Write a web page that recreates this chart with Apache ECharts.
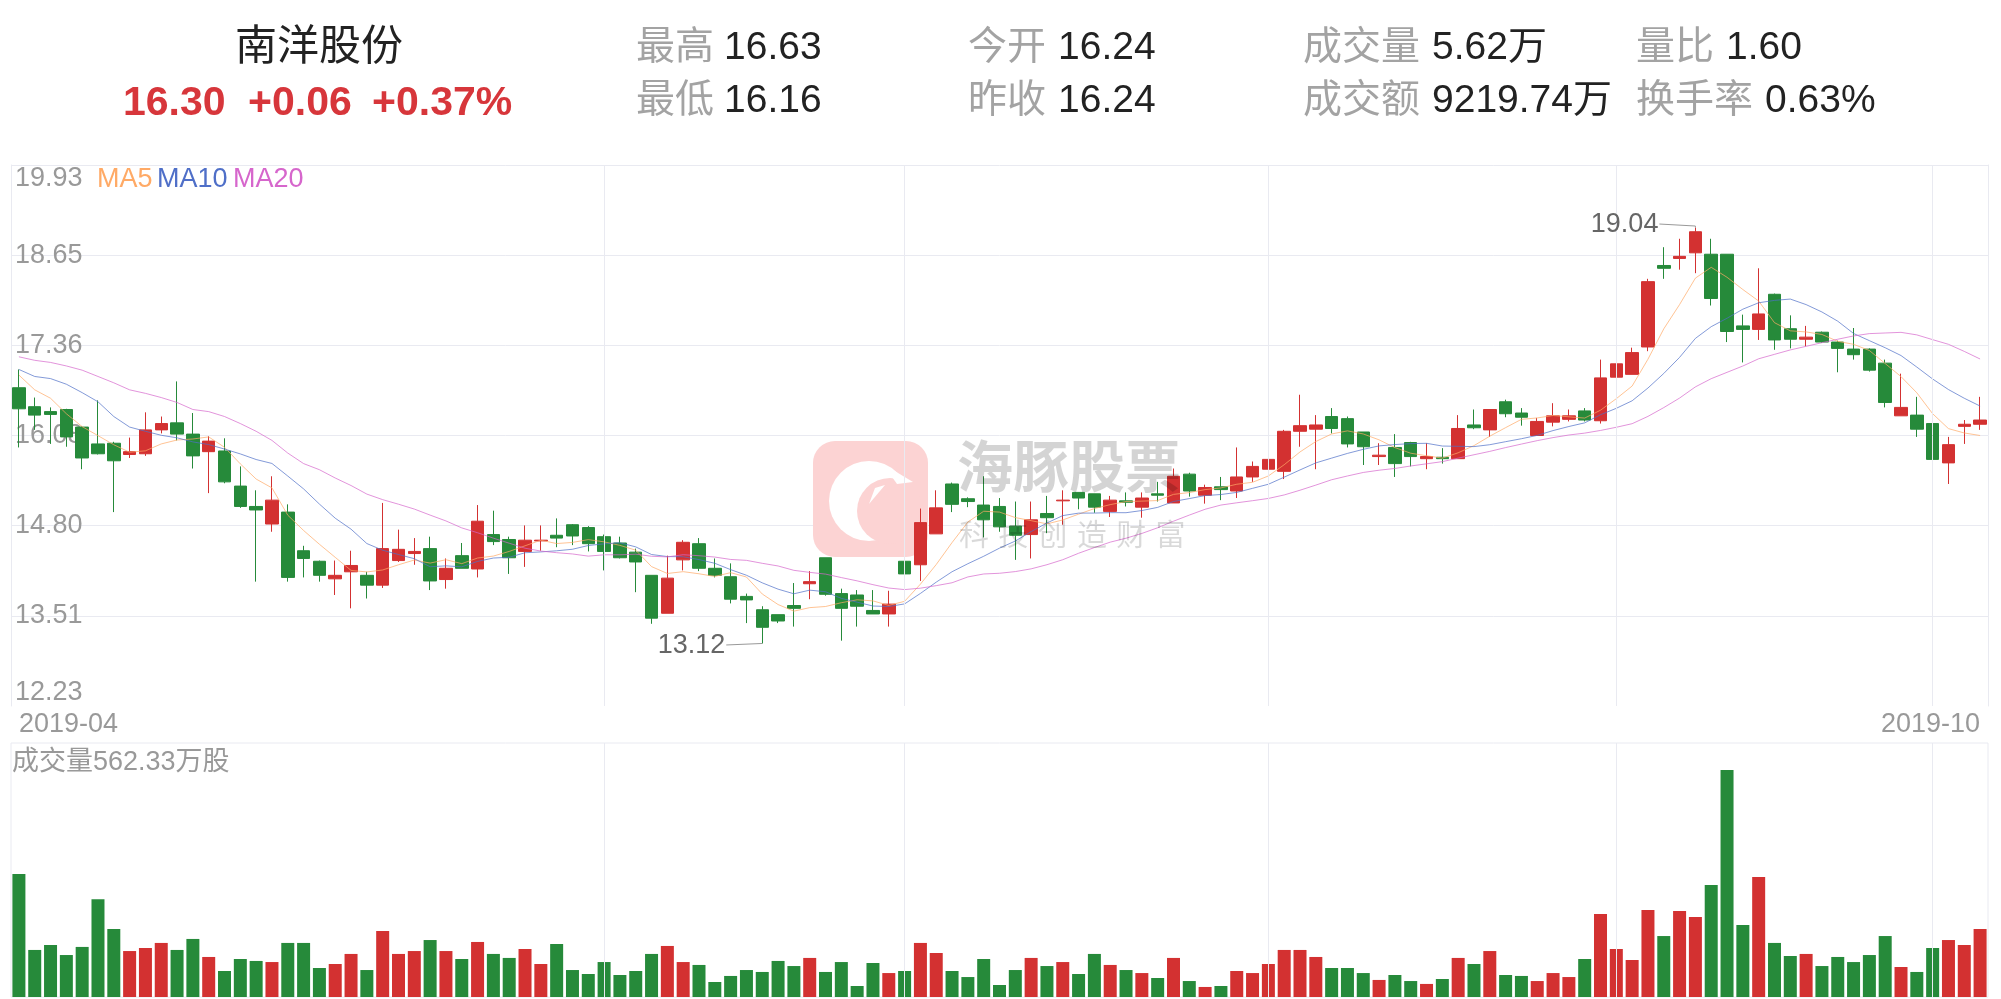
<!DOCTYPE html>
<html>
<head>
<meta charset="utf-8">
<script src="https://cdn.jsdelivr.net/npm/echarts@6/dist/echarts.min.js"></script>
<style>
html,body{margin:0;padding:0;background:#fff;}
#c{width:2001px;height:999px;}
</style>
</head>
<body>
<div id="c"></div>
<script>
// ---------------- DATA ----------------
const stockName = '南洋股份';
const quoteValues = ['16.30', '+0.06', '+0.37%'];
const statLabels = ['最高', '最低', '今开', '昨收', '成交量', '成交额', '量比', '换手率'];
const statValues = ['16.63', '16.16', '16.24', '16.24', '5.62万', '9219.74万', '1.60', '0.63%'];

const dates = [
'2019-04-08','2019-04-09','2019-04-10','2019-04-11','2019-04-12','2019-04-15','2019-04-16','2019-04-17','2019-04-18','2019-04-19',
'2019-04-22','2019-04-23','2019-04-24','2019-04-25','2019-04-26','2019-04-29','2019-04-30',
'2019-05-06','2019-05-07','2019-05-08','2019-05-09','2019-05-10','2019-05-13','2019-05-14','2019-05-15','2019-05-16','2019-05-17',
'2019-05-20','2019-05-21','2019-05-22','2019-05-23','2019-05-24','2019-05-27','2019-05-28','2019-05-29','2019-05-30','2019-05-31',
'2019-06-03','2019-06-04','2019-06-05','2019-06-06','2019-06-10','2019-06-11','2019-06-12','2019-06-13','2019-06-14',
'2019-06-17','2019-06-18','2019-06-19','2019-06-20','2019-06-21','2019-06-24','2019-06-25','2019-06-26','2019-06-27','2019-06-28',
'2019-07-01','2019-07-02','2019-07-03','2019-07-04','2019-07-05','2019-07-08','2019-07-09','2019-07-10','2019-07-11','2019-07-12',
'2019-07-15','2019-07-16','2019-07-17','2019-07-18','2019-07-19','2019-07-22','2019-07-23','2019-07-24','2019-07-25','2019-07-26',
'2019-07-29','2019-07-30','2019-07-31',
'2019-08-01','2019-08-02','2019-08-05','2019-08-06','2019-08-07','2019-08-08','2019-08-09','2019-08-12','2019-08-13','2019-08-14',
'2019-08-15','2019-08-16','2019-08-19','2019-08-20','2019-08-21','2019-08-22','2019-08-23','2019-08-26','2019-08-27','2019-08-28',
'2019-08-29','2019-08-30',
'2019-09-02','2019-09-03','2019-09-04','2019-09-05','2019-09-06','2019-09-09','2019-09-10','2019-09-11','2019-09-12','2019-09-16',
'2019-09-17','2019-09-18','2019-09-19','2019-09-20','2019-09-23','2019-09-24','2019-09-25','2019-09-26','2019-09-27','2019-09-30',
'2019-10-08','2019-10-09','2019-10-10','2019-10-11'
];

const opens = [
16.76,16.49,16.42,16.45,16.20,15.96,15.97,15.81,15.82,16.16,
16.26,16.10,15.85,15.86,15.36,15.07,14.82,14.99,14.44,14.29,
14.04,14.14,14.09,13.95,14.30,14.40,14.47,14.03,14.37,14.18,
14.67,14.60,14.43,14.58,14.66,14.81,14.77,14.64,14.55,14.42,
14.09,13.55,14.31,14.54,14.19,14.07,13.79,13.60,13.53,13.66,
13.97,14.34,13.83,13.81,13.59,13.54,14.29,14.24,14.68,15.39,
15.18,15.09,15.07,14.79,14.67,14.97,15.15,15.27,15.25,15.00,
15.15,15.06,15.25,15.12,15.53,15.23,15.35,15.29,15.49,15.60,
15.57,16.14,16.17,16.35,16.32,16.13,15.78,15.91,15.98,15.75,
15.77,15.75,16.23,16.16,16.56,16.40,16.08,16.27,16.31,16.43,
16.29,16.91,16.95,17.34,18.50,18.60,18.68,18.66,18.66,17.64,
17.59,18.09,17.60,17.45,17.55,17.41,17.31,17.31,17.11,16.36,
16.37,16.25,15.69,16.21,16.24
];
const closes = [
16.46,16.37,16.38,16.06,15.76,15.82,15.72,15.85,16.16,16.25,
16.10,15.79,16.00,15.42,15.07,15.02,15.16,14.06,14.33,14.09,
14.09,14.23,13.95,14.47,14.46,14.43,14.01,14.19,14.19,14.86,
14.57,14.34,14.59,14.59,14.62,14.65,14.54,14.43,14.34,14.28,
13.48,14.05,14.56,14.19,14.09,13.75,13.74,13.35,13.44,13.62,
14.00,13.82,13.62,13.65,13.54,13.68,14.11,14.84,15.05,15.10,
15.14,14.88,14.78,14.66,14.88,14.91,15.16,15.19,15.06,15.16,
15.13,15.19,15.23,15.50,15.29,15.34,15.31,15.49,15.64,15.74,
16.14,16.22,16.23,16.18,15.96,15.92,15.80,15.68,15.78,15.78,
15.75,16.18,16.19,16.45,16.39,16.34,16.28,16.36,16.36,16.30,
16.90,17.10,17.26,18.27,18.46,18.63,18.98,18.03,17.56,17.59,
17.81,17.44,17.45,17.48,17.41,17.32,17.23,17.01,16.55,16.48,
16.17,15.74,15.95,16.24,16.30
];
const lows = [
15.91,16.16,15.96,15.92,15.60,15.81,14.99,15.76,15.79,16.11,
16.01,15.61,15.26,15.40,15.05,14.00,14.71,14.00,14.06,14.00,
13.81,13.62,13.76,13.91,14.28,14.24,13.88,13.90,14.19,14.06,
14.52,14.11,14.21,14.44,14.49,14.52,14.43,14.16,14.33,13.85,
13.40,13.55,14.16,14.15,14.06,13.69,13.41,13.12,13.41,13.36,
13.75,13.80,13.16,13.36,13.54,13.36,13.79,14.01,14.68,14.99,
15.06,14.63,14.71,14.31,14.33,14.69,14.81,15.03,14.98,14.92,
15.07,14.91,15.14,15.12,15.21,15.11,15.16,15.19,15.42,15.52,
15.46,15.92,15.60,16.11,15.91,15.66,15.66,15.49,15.64,15.60,
15.68,15.75,16.17,16.06,16.34,16.22,16.08,16.21,16.28,16.28,
16.25,16.72,16.95,17.28,18.31,18.44,18.39,17.93,17.41,17.12,
17.44,17.30,17.32,17.35,17.40,16.98,17.16,16.99,16.48,16.36,
16.06,15.62,15.39,15.96,16.16
];
const highs = [
17.02,16.62,16.48,16.46,16.21,16.58,15.99,16.05,16.41,16.35,
16.85,16.40,16.07,16.04,15.64,15.30,15.50,15.10,14.51,14.30,
14.30,14.44,14.14,15.12,14.74,14.62,14.64,14.33,14.55,15.09,
15.01,14.64,14.80,14.80,14.90,14.82,14.79,14.67,14.64,14.47,
14.09,14.37,14.59,14.62,14.33,14.26,13.83,13.65,13.53,13.98,
14.15,14.34,13.90,13.88,13.88,13.87,14.30,15.04,15.30,15.41,
15.20,15.50,15.19,15.14,15.14,15.22,15.30,15.27,15.25,15.22,
15.27,15.27,15.42,15.61,15.55,15.38,15.49,15.91,15.71,15.91,
16.16,16.66,16.37,16.47,16.35,16.13,15.97,16.10,15.99,15.97,
15.90,16.37,16.45,16.45,16.59,16.47,16.33,16.54,16.45,16.47,
17.16,17.12,17.33,18.31,18.76,18.88,19.04,18.88,18.66,17.80,
18.46,18.10,17.79,17.64,17.56,17.43,17.61,17.32,17.16,16.96,
16.63,16.25,16.06,16.30,16.63
];
// volume, 万股
const volumes = [
1017,389,430,347,414,808,562,380,405,447,
389,480,331,215,314,298,289,447,447,240,
273,356,223,546,356,380,471,380,314,455,
356,323,397,273,438,223,190,289,182,215,
356,422,289,265,124,174,223,207,298,256,
323,207,289,91,281,198,215,447,364,215,
165,314,99,223,323,256,289,190,356,265,
223,198,157,323,132,83,91,215,198,273,
389,389,331,240,240,198,141,182,132,108,
149,323,273,380,182,174,132,198,165,314,
686,397,306,720,504,711,662,926,1877,595,
992,447,339,356,256,331,289,347,504,248,
207,405,471,430,562.33
];
// moving-average values before a full window exists
const ma5Head = [16.94,16.73,16.61,16.39];
const ma10Head = [17.02,16.92,16.89,16.81,16.69,16.56,16.35,16.20,16.14];
const ma20Head = [17.20,17.15,17.12,17.07,17.01,16.92,16.83,16.73,16.68,16.62,16.55,16.45,16.42,16.35,16.25,16.14,16.01,15.83,15.68];

const priceTicks = ['12.23','13.51','14.80','16.08','17.36','18.65','19.93'];
const priceMin = 12.23, priceMax = 19.93;
const volMax = 2100;
const splitDates = ['2019-06-03','2019-07-01','2019-08-01','2019-09-02','2019-10-08'];
const maNames = ['MA5','MA10','MA20'];

// ---------------- STYLE ----------------
const UP = '#d33131', DOWN = '#268a3a';
const GRID = '#e9eaf1';
const MA_COLORS = ['#ffaa66', '#4f6fc8', '#d666cc'];
const FONT = "'Liberation Sans','Noto Sans CJK SC',sans-serif";
const SMALL = 27;

function movingAvg(n, head) {
  return closes.map((c, i) => {
    if (i < n - 1) return head[i];
    let s = 0;
    for (let k = i - n + 1; k <= i; k++) s += closes[k];
    return +(s / n).toFixed(3);
  });
}
const maData = [movingAvg(5, ma5Head), movingAvg(10, ma10Head), movingAvg(20, ma20Head)];

const kData = dates.map((d, i) => [opens[i], closes[i], lows[i], highs[i]]);

const chart = echarts.init(document.getElementById('c'), null, {renderer: 'canvas', width: 2001, height: 999});

const vMarkLine = {
  silent: true, symbol: ['none', 'none'], label: {show: false},
  lineStyle: {color: GRID, type: 'solid', width: 1},
  emphasis: {disabled: true},
  data: splitDates.map(d => ({xAxis: d})),
  animation: false
};

const option = {
  animation: false,
  backgroundColor: '#fff',
  textStyle: {fontFamily: FONT},
  grid: [
    {left: 11, right: 13, top: 165, height: 541, show: false},
    {left: 11, right: 13, top: 743, height: 254, show: true, borderColor: GRID, borderWidth: 1}
  ],
  xAxis: [
    {
      type: 'category', gridIndex: 0, data: dates, boundaryGap: true,
      axisLine: {show: false}, axisTick: {show: false}, splitLine: {show: false},
      axisLabel: {
        show: true, color: '#999', fontSize: SMALL, fontFamily: FONT, margin: 5,
        interval: (i) => i === 0 || i === dates.length - 1,
        formatter: (v) => v.slice(0, 7),
        showMinLabel: true, showMaxLabel: true,
        alignMinLabel: 'left', alignMaxLabel: 'right'
      }
    },
    {
      type: 'category', gridIndex: 1, data: dates, boundaryGap: true,
      axisLine: {show: false}, axisTick: {show: false}, axisLabel: {show: false}, splitLine: {show: false}
    }
  ],
  yAxis: [
    {type: 'value', gridIndex: 0, min: priceMin, max: priceMax, show: false, splitLine: {show: false}},
    {
      type: 'value', gridIndex: 0, min: 0, max: priceTicks.length - 1, interval: 1, position: 'left',
      axisLine: {show: true, lineStyle: {color: GRID}}, axisTick: {show: false},
      axisLabel: {
        inside: true, margin: 4, color: '#999', fontSize: SMALL, fontFamily: FONT,
        formatter: (v) => priceTicks[Math.round(v)],
        verticalAlignMinLabel: 'bottom', verticalAlignMaxLabel: 'top'
      },
      splitLine: {show: true, showMinLine: false, lineStyle: {color: GRID, width: 1}}
    },
    {
      type: 'value', gridIndex: 0, min: 0, max: 1, position: 'right',
      axisLine: {show: true, lineStyle: {color: GRID}}, axisTick: {show: false},
      axisLabel: {show: false}, splitLine: {show: false}
    },
    {type: 'value', gridIndex: 1, min: 0, max: volMax, show: false, splitLine: {show: false}}
  ],
  series: [
    {name: 'vlinesK', type: 'line', xAxisIndex: 0, yAxisIndex: 0, data: [], z: 1, silent: true, markLine: vMarkLine},
    {name: 'vlinesV', type: 'line', xAxisIndex: 1, yAxisIndex: 3, data: [], z: 1, silent: true, markLine: vMarkLine},
    {
      name: 'K', type: 'candlestick', xAxisIndex: 0, yAxisIndex: 0, data: kData, barWidth: 13, z: 3,
      itemStyle: {color: UP, color0: DOWN, borderColor: UP, borderColor0: DOWN, borderWidth: 1}
    },
    ...maNames.map((n, k) => ({
      name: n, type: 'line', xAxisIndex: 0, yAxisIndex: 0, data: maData[k], z: 4,
      symbol: 'none', showSymbol: false, smooth: false, silent: true,
      lineStyle: {width: 1, color: MA_COLORS[k], opacity: 0.7}, itemStyle: {color: MA_COLORS[k]}
    })),
    {
      name: 'Vol', type: 'bar', xAxisIndex: 1, yAxisIndex: 3, barWidth: 13, z: 3,
      data: volumes.map((v, i) => ({value: v, itemStyle: {color: closes[i] >= opens[i] ? UP : DOWN}}))
    }
  ]
};
chart.setOption(option);

// ---------------- GRAPHICS (header, legend, watermark, annotations) ----------------
function txt(x, y, text, size, color, extra) {
  return {
    type: 'text', x: x, y: y, z: 20,
    style: Object.assign({text: text, fontSize: size, fontFamily: FONT, fill: color, align: 'left', verticalAlign: 'middle'}, extra || {})
  };
}
const g = [];
// header
g.push(txt(319, 48, stockName, 42, '#222', {align: 'center'}));
const quoteX = [123, 248, 372];
quoteValues.forEach((q, i) => g.push(txt(quoteX[i], 104, q, 41, '#d7363b', {fontWeight: 'bold'})));
const labelX = [636, 636, 968, 968, 1303, 1303, 1636, 1636];
const valueX = [724, 724, 1058, 1058, 1432, 1432, 1726, 1765];
statLabels.forEach((l, i) => {
  const y = i % 2 === 0 ? 48 : 101;
  g.push(txt(labelX[i], y, l, 39, '#a3a3a3'));
  g.push(txt(valueX[i], y, statValues[i], 39, '#222'));
});
// MA legend
const maLegendX = [97, 157, 233];
maNames.forEach((n, k) => g.push(txt(maLegendX[k], 180, n, SMALL, MA_COLORS[k])));
// volume label
g.push(txt(12, 763, '成交量' + volumes[volumes.length - 1].toFixed(2) + '万股', SMALL, '#999'));

// watermark
const PINK = '#fcd3d3';
g.push({
  type: 'group', x: 813, y: 441, z: 0, silent: true,
  children: [
    {type: 'rect', shape: {x: 0, y: 0, width: 115, height: 116, r: 22}, style: {fill: PINK}, z: 0},
    {type: 'circle', shape: {cx: 56, cy: 60, r: 40}, style: {fill: '#fff'}, z: 0},
    {type: 'circle', shape: {cx: 77, cy: 70, r: 33}, style: {fill: PINK}, z: 0},
    {type: 'polygon', shape: {points: [[70, 23], [100, 41], [84, 43]]}, style: {fill: '#fff'}, z: 0},
    {type: 'polygon', shape: {points: [[72, 44], [56, 63], [62, 47]]}, style: {fill: '#fff'}, z: 0}
  ]
});
g.push(txt(957, 472, '海豚股票', 56, 'rgba(0,0,0,0.17)', {fontWeight: 'bold'}));
'科技创造财富'.split('').forEach((ch, i) => g.push(txt(959 + i * 39.3, 537, ch, 30, 'rgba(0,0,0,0.15)')));

// high / low annotations
const hiIdx = highs.indexOf(Math.max.apply(null, highs));
const loIdx = lows.indexOf(Math.min.apply(null, lows));
const pHi = chart.convertToPixel({seriesIndex: 2}, [hiIdx, highs[hiIdx]]);
const pLo = chart.convertToPixel({seriesIndex: 2}, [loIdx, lows[loIdx]]);
g.push({type: 'polyline', z: 20, shape: {points: [[pHi[0] - 36, pHi[1] - 3.5], [pHi[0], pHi[1] - 1.5], [pHi[0], pHi[1]]]}, style: {stroke: '#999', lineWidth: 1, fill: null}});
g.push(txt(pHi[0] - 37, pHi[1] - 3, highs[hiIdx].toFixed(2), SMALL, '#666', {align: 'right'}));
g.push({type: 'polyline', z: 20, shape: {points: [[pLo[0] - 36, pLo[1] + 1.5], [pLo[0], pLo[1]]]}, style: {stroke: '#999', lineWidth: 1, fill: null}});
g.push(txt(pLo[0] - 37, pLo[1] + 2, lows[loIdx].toFixed(2), SMALL, '#666', {align: 'right'}));

chart.setOption({graphic: g});
</script>
</body>
</html>
